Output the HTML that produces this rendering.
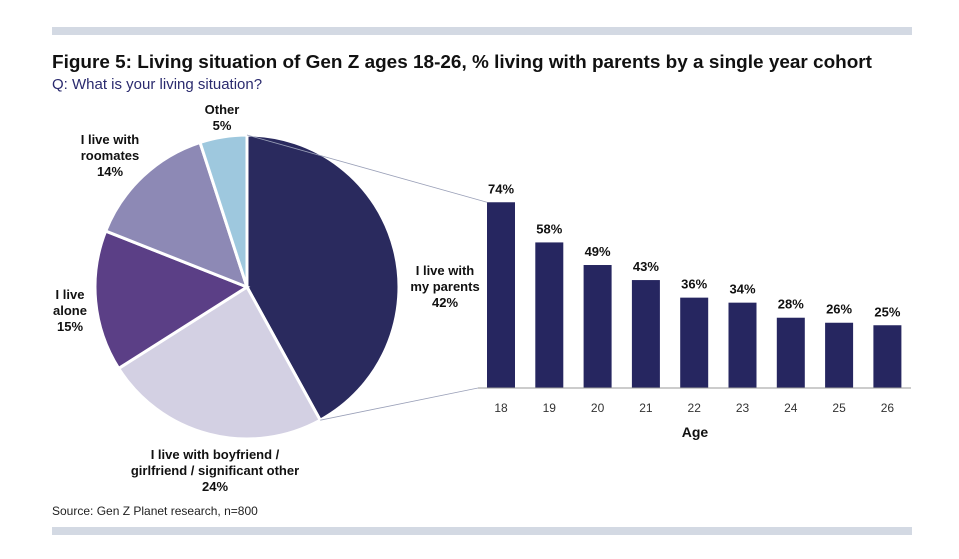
<!DOCTYPE html>
<html><head><meta charset="utf-8"><style>
body{margin:0;background:#fff;}
svg text{font-family:"Liberation Sans",sans-serif;}
</style></head><body>
<svg width="959" height="554" viewBox="0 0 959 554">
<rect x="52" y="27" width="860" height="8" fill="#d3d9e3"/>
<rect x="52" y="527" width="860" height="8" fill="#d3d9e3"/>
<text x="52" y="68" font-size="18.5" font-weight="bold" fill="#111" textLength="820" lengthAdjust="spacingAndGlyphs">Figure 5: Living situation of Gen Z ages 18-26, % living with parents by a single year cohort</text>
<text x="52" y="89" font-size="15" fill="#2a2a6e">Q: What is your living situation?</text>
<text x="52" y="515" font-size="12" fill="#222">Source: Gen Z Planet research, n=800</text>
<g id="pie"></g>
<g id="bars"></g>
</svg>
<script>
const pieLabels=[["I live with","my parents","42%"],["I live with boyfriend /","girlfriend / significant other","24%"],["I live","alone","15%"],["I live with","roomates","14%"],["Other","5%"]];
const pieValues=[42,24,15,14,5];
const ages=["18","19","20","21","22","23","24","25","26"];
const parentPct=[74,58,49,43,36,34,28,26,25];
const NS="http://www.w3.org/2000/svg";
function mk(t,a,p){const e=document.createElementNS(NS,t);for(const k in a)e.setAttribute(k,a[k]);p.appendChild(e);return e;}
const pie=document.getElementById('pie');
const cx=247,cy=287,r=152;
const colors=["#2a2a5e","#d3d0e3","#5b3f86","#8d89b5","#9ec8de"];
const labelPos=[[445,275],[215,459],[70,299],[110,144],[222,114]];
const total=pieValues.reduce((a,b)=>a+b,0);
let acc=0;let parentsEnd=null;
pieValues.forEach((v,i)=>{
 const a0=acc/total*2*Math.PI;acc+=v;const a1=acc/total*2*Math.PI;
 const x0=cx+r*Math.sin(a0),y0=cy-r*Math.cos(a0),x1=cx+r*Math.sin(a1),y1=cy-r*Math.cos(a1);
 if(i===0)parentsEnd=[x1,y1];
 const p=mk('path',{d:`M${cx},${cy}L${x0},${y0}A${r},${r} 0 ${a1-a0>Math.PI?1:0} 1 ${x1},${y1}Z`,fill:colors[i],stroke:'#fff','stroke-width':3},pie);
 
 
 const t=mk('text',{x:labelPos[i][0],y:labelPos[i][1],'font-size':13,'font-weight':'bold','text-anchor':'middle',fill:'#111'},pie);
 
 
 pieLabels[i].forEach((s,j)=>{const ts=mk('tspan',{x:labelPos[i][0],dy:j?16:0},t);ts.textContent=s;});
});
const bars=document.getElementById('bars');
const base=388,pxPer=2.51,x0b=487,step=48.3,bw=28;
const xb=i=>x0b+i*step, yb=v=>base-v*pxPer;
let l1=mk('line',{x1:cx,y1:cy-r,x2:xb(0),y2:yb(parentPct[0]),stroke:'#9aa0b8','stroke-width':0.8},bars);

let l2=mk('line',{x1:parentsEnd[0],y1:parentsEnd[1],x2:xb(0)-9,y2:base,stroke:'#9aa0b8','stroke-width':0.8},bars);

parentPct.forEach((v,i)=>{
 const b=mk('rect',{x:xb(i),y:yb(v),width:bw,height:v*pxPer,fill:'#262660'},bars);
 
 
 const t=mk('text',{x:xb(i)+bw/2,y:yb(v)-9,'font-size':13,'font-weight':'bold','text-anchor':'middle',fill:'#111'},bars);
 t.textContent=v+'%';
 
 
 const a=mk('text',{x:xb(i)+bw/2,y:412,'font-size':12,'text-anchor':'middle',fill:'#333'},bars);
 a.textContent=ages[i];
 
 
});
const ax=mk('line',{x1:478,y1:base,x2:911,y2:base,stroke:'#999','stroke-width':1},bars);

const at=mk('text',{x:695,y:437,'font-size':14,'font-weight':'bold','text-anchor':'middle',fill:'#111'},bars);
at.textContent='Age';

</script>
</body></html>
